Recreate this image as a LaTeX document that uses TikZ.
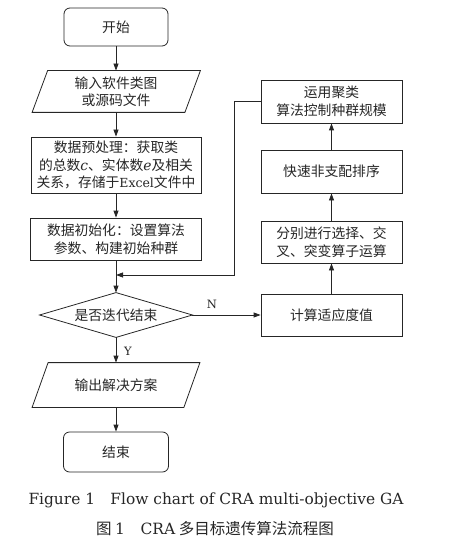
\documentclass[tikz,border=0pt]{standalone}
\usepackage{fontspec}
\setmainfont{Noto Sans CJK SC}
\newfontfamily\lat{DejaVu Serif}
\usetikzlibrary{arrows.meta}
\newcommand{\la}[1]{{\lat #1}}
\newcommand{\lai}[1]{{\lat\itshape #1}}
\begin{document}
\begin{tikzpicture}[x=1pt,y=-1pt, line width=0.8pt, draw=black!85,
  txt/.style={font=\fontsize{13.8}{17.5}\selectfont, text=black!85},
  plain/.style={txt, rectangle, inner sep=0pt, align=center},
  box/.style={plain, draw},
  rbox/.style={plain, draw, rounded corners=6pt},
  arr/.style={-{Triangle[length=7pt,width=5pt]}},
  lbl/.style={font=\fontsize{11.5}{13}\selectfont\lat, text=black!85, inner sep=0pt}]
\useasboundingbox (0,0) rectangle (460,548);

% main column
\node[rbox, minimum width=104pt, minimum height=38pt] (start) at (116,27) {开始};
\node[plain, minimum width=152pt, minimum height=41pt] (in) at (116,91.5) {输入软件类图\\或源码文件};
\draw ([xshift=8pt]in.north west) -- ([xshift=8pt]in.north east) -- ([xshift=-7.5pt]in.south east) -- ([xshift=-7.5pt]in.south west) -- cycle;
\node[box, minimum width=170pt, minimum height=56pt] (pre) at (116,165) {数据预处理：获取类\\的总数\lai{c}、实体数\lai{e}及相关\\关系，存储于{\lat\fontsize{12.5}{17.5}\selectfont Excel}文件中};
\node[box, minimum width=171pt, minimum height=42pt] (init) at (116,239) {数据初始化：设置算法\\参数、构建初始种群};
\node[plain, minimum width=152pt, minimum height=44pt] (dec) at (116,315) {是否迭代结束};
\draw (dec.north) -- (dec.east) -- (dec.south) -- (dec.west) -- cycle;
\node[plain, minimum width=151pt, minimum height=44pt] (out) at (116,385) {输出解决方案};
\draw ([xshift=8pt]out.north west) -- ([xshift=8pt]out.north east) -- ([xshift=-8pt]out.south east) -- ([xshift=-8pt]out.south west) -- cycle;
\node[rbox, minimum width=105pt, minimum height=40pt] (end) at (116,452) {结束};

% right column
\node[box, minimum width=141pt, minimum height=43pt] (clus) at (331.5,101.5) {运用聚类\\算法控制种群规模};
\node[box, minimum width=141pt, minimum height=43pt] (sort) at (331.5,171.5) {快速非支配排序};
\node[box, minimum width=141pt, minimum height=42pt] (ops) at (331.5,242) {分别进行选择、交\\叉、突变算子运算};
\node[box, minimum width=141pt, minimum height=42pt] (fit) at (331.5,315) {计算适应度值};

% connectors
\draw[arr] (start) -- (in);
\draw[arr] (in) -- (pre);
\draw[arr] (pre) -- (init);
\draw[arr] (init) -- (dec.north);
\draw[arr] (dec.south) -- (out);
\draw[arr] (out) -- (end);
\draw[arr] (dec.east) -- (fit.west);
\draw[arr] (fit) -- (ops);
\draw[arr] (ops) -- (sort);
\draw[arr] (sort) -- (clus);
\coordinate (loopc) at (234,275);
\coordinate (loopend) at (116,275);
\draw[arr] (clus.west) -| (loopc) -- (loopend);

\node[lbl] (nlab) at (212,304) {N};
\node[lbl] (ylab) at (128,351) {Y};

% captions
\node[font=\fontsize{15.4}{18}\selectfont\lat, text=black!85, inner sep=0pt] (cap1) at (216,500) {Figure 1\hspace{1em}Flow chart of CRA multi-objective GA};
\node[font=\fontsize{15.5}{18}\selectfont, text=black!85, inner sep=0pt] (cap2) at (215,529) {图 \la{1}\hspace{1em}\la{CRA} 多目标遗传算法流程图};
\end{tikzpicture}
\end{document}
